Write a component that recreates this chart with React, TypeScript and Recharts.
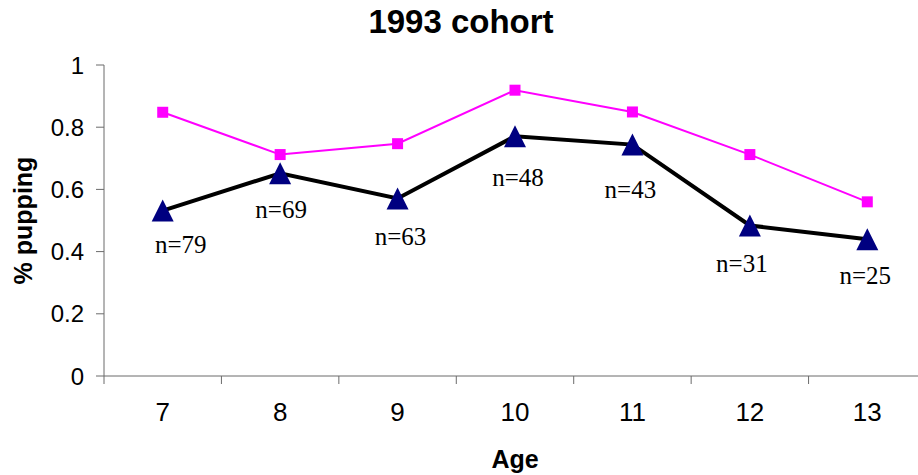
import React from 'react';
import { LineChart, Line, XAxis, YAxis, LabelList } from 'recharts';

const ages = [7, 8, 9, 10, 11, 12, 13];
const allPupping = [0.848, 0.712, 0.747, 0.919, 0.849, 0.712, 0.56];
const cohortPupping = [0.532, 0.652, 0.571, 0.771, 0.744, 0.484, 0.44];
const sampleSizes = ['n=79', 'n=69', 'n=63', 'n=48', 'n=43', 'n=31', 'n=25'];
const yTicks = [0, 0.2, 0.4, 0.6, 0.8, 1];

// small hand nudges so the n= labels sit where they do in the original
const labelNudge = [
  [18, 34],
  [1, 36],
  [3, 38],
  [3, 41],
  [-2, 45],
  [-8, 38],
  [-2, 36],
];

const data = ages.map((age, i) => ({
  age,
  all: allPupping[i],
  cohort: cohortPupping[i],
  n: sampleSizes[i],
}));

// category boundaries + centres, so tick marks fall between the ages
const xTicks = [...ages.flatMap((a) => [a - 0.5, a]), ages[ages.length - 1] + 0.5];

const AXIS = '#6b6b6b';
const FONT = 'Arial, "Liberation Sans", sans-serif';

const AgeTick = (props: any) => {
  const { x, y, payload } = props;
  if (!Number.isInteger(payload.value)) {
    return <line x1={x} x2={x} y1={y - 8} y2={y} stroke={AXIS} strokeWidth={1} />;
  }
  return (
    <text x={x} y={y + 28} textAnchor="middle" dominantBaseline="central" fontSize={26} fontFamily={FONT} fill="#000">
      {payload.value}
    </text>
  );
};

const SquareDot = (props: any) => {
  const { cx, cy, index } = props;
  return <rect key={`sq-${index}`} x={cx - 5.5} y={cy - 5.5} width={11} height={11} fill="#ff00ff" />;
};

const TriangleDot = (props: any) => {
  const { cx, cy, index } = props;
  const h = 22;
  return (
    <polygon
      key={`tri-${index}`}
      points={`${cx},${cy - h / 2} ${cx + 11},${cy + h / 2} ${cx - 11},${cy + h / 2}`}
      fill="#000080"
    />
  );
};

const NLabel = (props: any) => {
  const { x, y, value, index } = props;
  const [dx, dy] = labelNudge[index] || [0, 38];
  return (
    <text
      x={x + dx}
      y={y + dy}
      textAnchor="middle"
      dominantBaseline="central"
      fontSize={25}
      fontFamily='"Liberation Serif", "Times New Roman", serif'
      fill="#000"
    >
      {value}
    </text>
  );
};

export default function App() {
  return (
    <div style={{ position: 'absolute', left: 0, top: 0, width: 918, height: 475, overflow: 'hidden', background: '#fff' }}>
      <div
        style={{
          position: 'absolute',
          left: 0,
          top: 5,
          width: 922,
          textAlign: 'center',
          fontFamily: FONT,
          fontWeight: 'bold',
          fontSize: 33,
          lineHeight: '33px',
        }}
      >
        1993 cohort
      </div>
      <LineChart width={926} height={475} data={data} margin={{ top: 65, right: 0, bottom: 0, left: 0 }}>
        <XAxis
          dataKey="age"
          type="number"
          domain={[6.5, 13.5]}
          ticks={xTicks}
          interval={0}
          tick={<AgeTick />}
          tickLine={false}
          tickSize={8}
          tickMargin={0}
          height={99}
          stroke={AXIS}
          label={{
            value: 'Age',
            position: 'insideBottom',
            offset: 7,
            style: { fontFamily: FONT, fontWeight: 'bold', fontSize: 25, fill: '#000' },
          }}
        />
        <YAxis
          domain={[0, 1]}
          ticks={yTicks}
          width={104}
          stroke={AXIS}
          tickSize={8}
          tickMargin={12}
          tick={{ fontFamily: FONT, fontSize: 24, fill: '#000' }}
          label={{
            value: '% pupping',
            angle: -90,
            position: 'insideLeft',
            offset: 23,
            style: { textAnchor: 'middle', fontFamily: FONT, fontWeight: 'bold', fontSize: 25, fill: '#000' },
          }}
        />
        <Line
          dataKey="all"
          stroke="#ff00ff"
          strokeWidth={2}
          dot={<SquareDot />}
          activeDot={false}
          isAnimationActive={false}
        />
        <Line
          dataKey="cohort"
          stroke="#000"
          strokeWidth={4}
          dot={<TriangleDot />}
          activeDot={false}
          isAnimationActive={false}
        >
          <LabelList dataKey="n" content={<NLabel />} />
        </Line>
      </LineChart>
    </div>
  );
}
